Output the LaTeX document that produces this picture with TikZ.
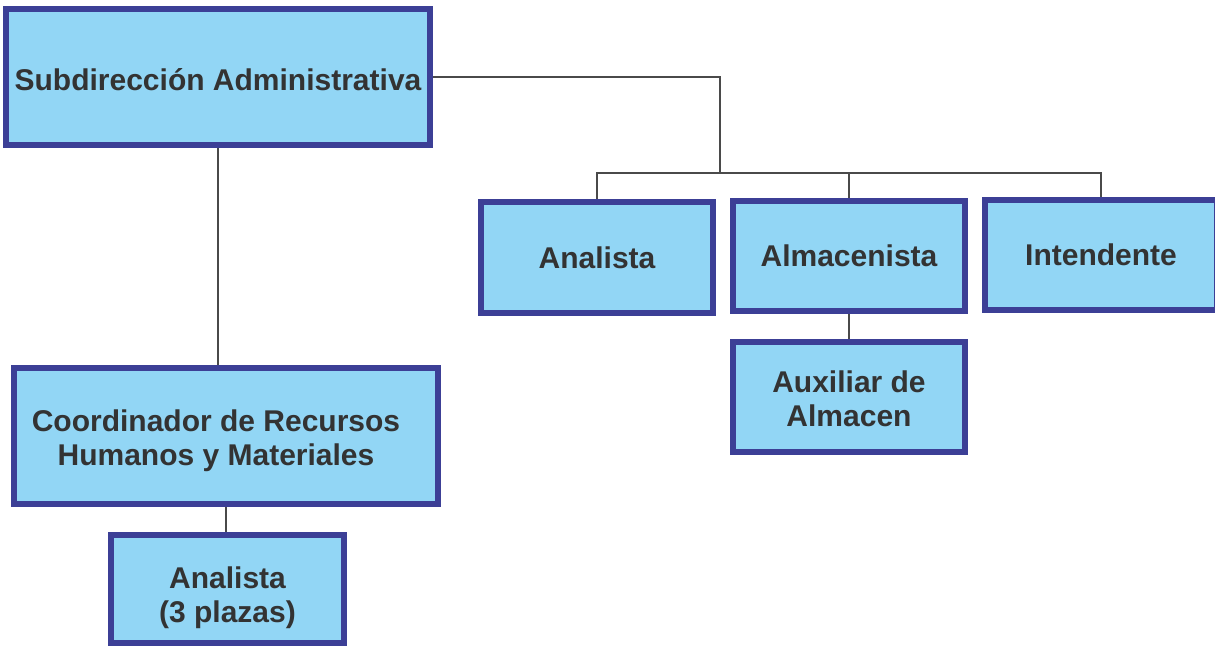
\documentclass[tikz,border=0pt]{standalone}
\usepackage{fontspec}
\setmainfont{Liberation Sans}
\usetikzlibrary{backgrounds}
\definecolor{boxborder}{HTML}{3C3F96}
\definecolor{boxfill}{HTML}{92D6F5}
\definecolor{txt}{HTML}{333333}
\definecolor{conn}{HTML}{4A4A4A}
\begin{document}
\begin{tikzpicture}[x=1pt,y=-1pt,
  orgbox/.style={draw=boxborder,fill=boxfill,line width=6pt,inner sep=0pt},
  lbl/.style={inner sep=0pt,align=center,text=txt,font=\fontsize{30}{34}\selectfont\bfseries},
  link/.style={draw=conn,line width=1.3pt}]
\useasboundingbox (0,0) rectangle (1215,646);
\node[orgbox,minimum width=424pt,minimum height=136pt,
  label={[lbl,shift={(0,2.5)}]center:Subdirección Administrativa}] (top) at (218,77) {};
\node[orgbox,minimum width=232pt,minimum height=111pt,
  label={[lbl]center:Analista}] (ana1) at (597,257.5) {};
\node[orgbox,minimum width=232pt,minimum height=110pt,
  label={[lbl]center:Almacenista}] (alm) at (849,256) {};
\node[orgbox,minimum width=232pt,minimum height=110pt,
  label={[lbl]center:Intendente}] (int) at (1101,255) {};
\node[orgbox,minimum width=232pt,minimum height=110pt,
  label={[lbl,shift={(0,2)}]center:Auxiliar de\\Almacen}] (aux) at (849,397) {};
\node[orgbox,minimum width=424pt,minimum height=136pt,
  label={[lbl,shift={(-10,5)}]center:Coordinador de Recursos\\Humanos y Materiales}] (coord) at (226,436) {};
\node[orgbox,minimum width=233pt,minimum height=108pt,
  label={[lbl,shift={(0,9)}]center:Analista\\(3 plazas)}] (ana3) at (227.5,589) {};
\coordinate (bus) at (720,173);
\begin{scope}[on background layer]
\draw[link] (top.east) -| (bus);
\draw[link] (ana1.north) |- (bus) -| (int.north);
\draw[link] (alm.north) -- (alm.north |- bus);
\draw[link] (alm.south) -- (aux.north);
\draw[link] (top.south) -- (top.south |- coord.north);
\draw[link] (coord.south) -- (coord.south |- ana3.north);
\end{scope}
\end{tikzpicture}
\end{document}
